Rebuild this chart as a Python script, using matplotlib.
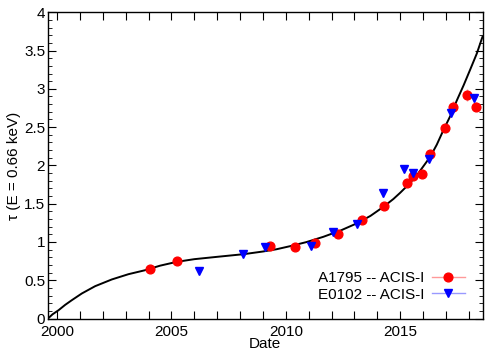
import matplotlib
matplotlib.use('Agg')
import matplotlib.pyplot as plt
from matplotlib.lines import Line2D
from matplotlib.ticker import MultipleLocator

plt.rcParams['font.family'] = ['Liberation Sans', 'DejaVu Sans']
plt.rcParams['font.size'] = 11

# A1795 -- ACIS-I (red circles)
a_date = [2004.07, 2005.25, 2009.31, 2010.38, 2011.28, 2012.27, 2013.34, 2014.28,
          2015.32, 2015.58, 2015.96, 2016.31, 2016.94, 2017.29, 2017.92, 2018.31]
a_tau = [0.644, 0.75, 0.945, 0.928, 0.988, 1.098, 1.289, 1.472,
         1.773, 1.864, 1.89, 2.147, 2.49, 2.766, 2.915, 2.766]
a_err = [0.02, 0.02, 0.02, 0.02, 0.02, 0.02, 0.03, 0.03,
         0.03, 0.04, 0.04, 0.05, 0.05, 0.08, 0.08, 0.06]

# E0102 -- ACIS-I (blue triangles)
e_date = [2006.22, 2008.12, 2009.07, 2011.11, 2012.08, 2013.10, 2014.27,
          2015.17, 2015.57, 2016.24, 2017.23, 2018.23]
e_tau = [0.618, 0.845, 0.928, 0.949, 1.132, 1.233, 1.642,
         1.948, 1.903, 2.078, 2.68, 2.88]
e_err = [0.03, 0.02, 0.03, 0.02, 0.04, 0.02, 0.05,
         0.03, 0.04, 0.03, 0.05, 0.05]

# contamination model curve
model_date = [1999.6, 1999.8, 2000.06, 2000.35, 2000.64, 2001.08, 2001.66, 2002.39,
              2003.12, 2003.85, 2004.5, 2005.23, 2006.0, 2006.98, 2008.15, 2009.0,
              2009.6, 2010.19, 2010.9, 2011.64, 2012.4, 2013.1, 2013.7, 2014.27,
              2014.7, 2015.0, 2015.4, 2015.8, 2016.31, 2016.6, 2016.89, 2017.2,
              2017.48, 2017.78, 2018.06, 2018.35, 2018.6]
model_tau = [0.0, 0.055, 0.108, 0.178, 0.239, 0.327, 0.422, 0.51,
             0.579, 0.631, 0.69, 0.74, 0.775, 0.805, 0.84, 0.875,
             0.905, 0.945, 0.998, 1.067, 1.15, 1.242, 1.34, 1.459,
             1.56, 1.642, 1.76, 1.9, 2.11, 2.27, 2.46, 2.65,
             2.85, 3.05, 3.25, 3.46, 3.68]

x_ticks = list(range(2000, 2019))
x_labels = [str(y) if y % 5 == 0 else '' for y in x_ticks]
y_ticks = [0, 0.5, 1, 1.5, 2, 2.5, 3, 3.5, 4]
y_labels = ['0', '0.5', '1', '1.5', '2', '2.5', '3', '3.5', '4']

fig = plt.figure(figsize=(5, 3.5), dpi=100)
ax = fig.add_axes([0.096, 0.09, 0.869, 0.875])

ax.plot(model_date, model_tau, color='black', lw=1.4, zorder=2)
ax.errorbar(a_date, a_tau, yerr=a_err, fmt='o', color='#ff0000', ms=6.3,
            ecolor='#ff9999', elinewidth=1, capsize=0, zorder=3)
ax.errorbar(e_date, e_tau, yerr=e_err, fmt='v', color='#0000ff', ms=5.5,
            ecolor='#9999ff', elinewidth=1, capsize=0, zorder=3)

ax.set_xticks(x_ticks)
ax.set_xticklabels(x_labels)
ax.set_yticks(y_ticks)
ax.set_yticklabels(y_labels)
ax.yaxis.set_minor_locator(MultipleLocator(0.1))
ax.set_xlim(1999.6, 2018.6)
ax.set_ylim(0, 4)
ax.tick_params(which='major', direction='in', length=6, top=True, right=True, pad=2)
ax.tick_params(which='minor', direction='in', length=3, top=True, right=True)
ax.tick_params(axis='x', pad=4.5)
for s in ax.spines.values():
    s.set_linewidth(1)

ax.set_xlabel('Date', labelpad=-1)
ax.set_ylabel('τ (E = 0.66 keV)', labelpad=2)

handles = [
    Line2D([], [], color='#ff9999', lw=1, marker='o', mfc='#ff0000', mec='#ff0000', ms=6.3),
    Line2D([], [], color='#9999ff', lw=1, marker='v', mfc='#0000ff', mec='#0000ff', ms=5.5),
]
ax.legend(handles, ['A1795 -- ACIS-I', 'E0102 -- ACIS-I'], loc='lower right',
          frameon=False, markerfirst=False, handlelength=2.2, handletextpad=0.5,
          borderaxespad=0.3, labelspacing=0.15, bbox_to_anchor=(0.985, 0.02))

fig.savefig('out.png', dpi=100)
